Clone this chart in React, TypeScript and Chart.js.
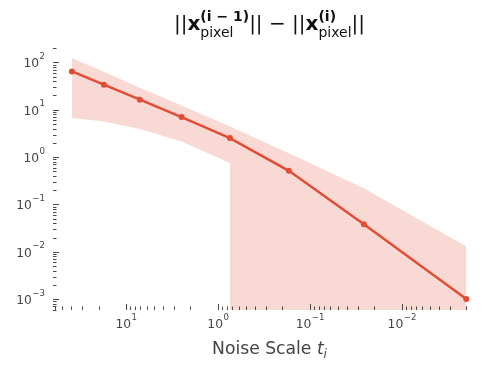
import React, { useEffect, useRef } from 'react';
import { Chart, registerables } from 'chart.js';

Chart.register(...registerables);

// ---- data ----
const noiseScale = [39.0, 17.5, 7.1, 2.5, 0.745, 0.17, 0.026, 0.002];
const meanDiff = [64.5, 33.8, 16.3, 7.0, 2.52, 0.513, 0.0383, 0.00101];
const bandUpper = [124, 63.3, 29.3, 12.3, 4.43, 1.21, 0.221, 0.0129];
const bandLower = [6.67, 5.66, 3.91, 2.14, 0.747, 0, 0, 0];

const xLabelDecades = [1, 0, -1, -2];
const yLabelDecades = [2, 1, 0, -1, -2, -3];
const xRange = [0.00122, 62.6];
const yRange = [5.9e-4, 222];

const xAxisTitle = 'Noise Scale ';
const xAxisTitleVar = 't';
const xAxisTitleSub = 'i';

// ---- styles ----
const LINE = '#E54B33';
const BAND = 'rgba(226,74,51,0.21)';
const TEXT = '#444444';
const TICK = '#4a4a4a';
const FONT = '"DejaVu Sans", "Liberation Sans", sans-serif';
const FLOOR = 1e-12;
const TICK_FONT_SIZE = 12.3;

function makeTicks(min: number, max: number, labelDecades: number[]) {
  const out: any[] = [];
  const lo = Math.floor(Math.log10(min));
  const hi = Math.ceil(Math.log10(max));
  for (let n = lo; n <= hi; n++) {
    for (let k = 1; k <= 9; k++) {
      const v = k * Math.pow(10, n);
      if (v >= min * 0.9999 && v <= max * 1.0001) {
        const decade = k === 1;
        out.push({
          value: v,
          decade,
          exp: decade && labelDecades.includes(n) ? n : null,
          lbl: decade && labelDecades.includes(n) ? '10^' + n : '',
        });
      }
    }
  }
  return out;
}

const tickMarks = {
  id: 'tickMarks',
  afterDatasetsDraw(chart: any) {
    const { ctx, chartArea: a, scales } = chart;
    ctx.save();
    ctx.strokeStyle = TICK;
    ctx.lineWidth = 1;
    ctx.beginPath();
    for (const t of scales.x.ticks) {
      const p = Math.round(scales.x.getPixelForValue(t.value)) + 0.5;
      if (p < a.left - 1 || p > a.right + 1) continue;
      const len = t.decade ? 6 : 3.5;
      ctx.moveTo(p, a.bottom);
      ctx.lineTo(p, a.bottom - len);
    }
    for (const t of scales.y.ticks) {
      const p = Math.round(scales.y.getPixelForValue(t.value)) + 0.5;
      if (p < a.top - 1 || p > a.bottom + 1) continue;
      const len = t.decade ? 6 : 3.5;
      ctx.moveTo(a.left, p);
      ctx.lineTo(a.left + len, p);
    }
    ctx.stroke();

    // tick labels 10^n with real superscripts
    const big = `${TICK_FONT_SIZE}px ${FONT}`;
    const small = `${TICK_FONT_SIZE * 0.7}px ${FONT}`;
    const measure = (exp: number) => {
      ctx.font = big;
      const wb = ctx.measureText('10').width;
      ctx.font = small;
      const ws = ctx.measureText(String(exp).replace('-', '\u2212')).width;
      return { wb, ws };
    };
    const drawLbl = (exp: number, x: number, base: number) => {
      const { wb } = measure(exp);
      ctx.font = big;
      ctx.fillText('10', x, base);
      ctx.font = small;
      ctx.fillText(String(exp).replace('-', '\u2212'), x + wb + 0.5, base - 8.5);
    };
    ctx.fillStyle = TEXT;
    ctx.textBaseline = 'alphabetic';
    ctx.textAlign = 'left';
    for (const t of scales.x.ticks) {
      if (t.exp === null || t.exp === undefined) continue;
      const p = scales.x.getPixelForValue(t.value);
      const { wb, ws } = measure(t.exp);
      drawLbl(t.exp, p - (wb + ws + 0.5) / 2, a.bottom + 18.3);
    }
    for (const t of scales.y.ticks) {
      if (t.exp === null || t.exp === undefined) continue;
      const p = scales.y.getPixelForValue(t.value);
      const { wb, ws } = measure(t.exp);
      drawLbl(t.exp, a.left - 8 - (wb + ws + 0.5), p + 5);
    }
    ctx.restore();
  },
};

type Part = { t: string; font: string; dy?: number } | { stack: { t: string; font: string; dy: number }[] };

const textPlugin = {
  id: 'mathText',
  afterDraw(chart: any) {
    const { ctx, chartArea: a } = chart;
    const cx = (a.left + a.right) / 2;
    ctx.save();
    ctx.textBaseline = 'alphabetic';
    ctx.textAlign = 'left';

    // title: ||x_pixel^(i-1)|| - ||x_pixel^(i)||
    const M = 20;
    const S = M * 0.7;
    const reg = `${M}px ${FONT}`;
    const bold = `bold ${M}px ${FONT}`;
    const sBold = `bold ${S}px ${FONT}`;
    const sReg = `${S}px ${FONT}`;
    const parts: Part[] = [
      { t: '||', font: reg },
      { t: 'x', font: bold },
      { stack: [{ t: '(i \u2212 1)', font: sBold, dy: -8.5 }, { t: 'pixel', font: sReg, dy: 7 }] },
      { t: '||', font: reg },
      { t: ' \u2212 ', font: reg },
      { t: '||', font: reg },
      { t: 'x', font: bold },
      { stack: [{ t: '(i)', font: sBold, dy: -8.5 }, { t: 'pixel', font: sReg, dy: 7 }] },
      { t: '||', font: reg },
    ];
    const widthOf = (p: Part) => {
      if ('stack' in p) {
        return Math.max(...p.stack.map((s) => { ctx.font = s.font; return ctx.measureText(s.t).width; }));
      }
      ctx.font = p.font;
      return ctx.measureText(p.t).width;
    };
    const total = parts.reduce((s, p) => s + widthOf(p), 0);
    let x = cx - total / 2;
    const base = 29.5;
    ctx.fillStyle = '#111111';
    for (const p of parts) {
      const w = widthOf(p);
      if ('stack' in p) {
        for (const s of p.stack) {
          ctx.font = s.font;
          ctx.fillText(s.t, x, base + s.dy);
        }
      } else {
        ctx.font = p.font;
        ctx.fillText(p.t, x, base + (p.dy ?? 0));
      }
      x += w;
    }

    // x axis title
    const L = 17.2;
    const f1 = `${L}px ${FONT}`;
    const f2 = `italic ${L}px ${FONT}`;
    const f3 = `italic ${L * 0.7}px ${FONT}`;
    ctx.font = f1; const w1 = ctx.measureText(xAxisTitle).width;
    ctx.font = f2; const w2 = ctx.measureText(xAxisTitleVar).width;
    ctx.font = f3; const w3 = ctx.measureText(xAxisTitleSub).width;
    let lx = cx - (w1 + w2 + w3) / 2;
    const lb = 354;
    ctx.fillStyle = TEXT;
    ctx.font = f1; ctx.fillText(xAxisTitle, lx, lb); lx += w1;
    ctx.font = f2; ctx.fillText(xAxisTitleVar, lx, lb); lx += w2;
    ctx.font = f3; ctx.fillText(xAxisTitleSub, lx, lb + 3.5);
    ctx.restore();
  },
};

export default function App() {
  const ref = useRef<HTMLCanvasElement | null>(null);

  useEffect(() => {
    const canvas = ref.current;
    if (!canvas) return;

    const upperPts = noiseScale.map((x, i) => ({ x, y: bandUpper[i] }));
    const lowerPts: { x: number; y: number }[] = [];
    bandLower.forEach((v, i) => {
      if (v <= 0 && i > 0 && bandLower[i - 1] > 0) lowerPts.push({ x: noiseScale[i - 1], y: FLOOR });
      lowerPts.push({ x: noiseScale[i], y: v > 0 ? v : FLOOR });
    });
    const linePts = noiseScale.map((x, i) => ({ x, y: meanDiff[i] }));

    const chart = new Chart(canvas, {
      type: 'line',
      data: {
        datasets: [
          {
            data: upperPts,
            borderWidth: 0,
            borderColor: 'rgba(0,0,0,0)',
            backgroundColor: BAND,
            pointRadius: 0,
            fill: '+1',
            tension: 0,
          },
          {
            data: lowerPts,
            borderWidth: 0,
            borderColor: 'rgba(0,0,0,0)',
            backgroundColor: 'rgba(0,0,0,0)',
            pointRadius: 0,
            fill: false,
            tension: 0,
          },
          {
            data: linePts,
            borderColor: LINE,
            backgroundColor: LINE,
            borderWidth: 2.4,
            pointRadius: 3,
            pointHoverRadius: 3,
            pointBorderWidth: 0,
            pointBackgroundColor: LINE,
            fill: false,
            tension: 0,
          },
        ],
      },
      options: {
        animation: false,
        responsive: false,
        events: [],
        layout: { padding: { top: 46, right: 13, left: 0, bottom: 0 } },
        plugins: {
          legend: { display: false },
          tooltip: { enabled: false },
          title: { display: false },
        },
        scales: {
          x: {
            type: 'logarithmic',
            reverse: true,
            min: xRange[0],
            max: xRange[1],
            border: { display: false },
            grid: { display: false, drawTicks: false },
            ticks: { display: false, autoSkip: false },
            afterBuildTicks: (s: any) => { s.ticks = makeTicks(xRange[0], xRange[1], xLabelDecades); },
            afterFit: (s: any) => { s.height = 61; },
          },
          y: {
            type: 'logarithmic',
            min: yRange[0],
            max: yRange[1],
            border: { display: false },
            grid: { display: false, drawTicks: false },
            ticks: { display: false, autoSkip: false },
            afterBuildTicks: (s: any) => { s.ticks = makeTicks(yRange[0], yRange[1], yLabelDecades); },
            afterFit: (s: any) => { s.width = 53; },
          },
        },
      } as any,
      plugins: [tickMarks, textPlugin],
    });

    return () => chart.destroy();
  }, []);

  return (
    <div style={{ position: 'fixed', left: 0, top: 0, width: 499, height: 371, background: '#fff' }}>
      <canvas ref={ref} width={499} height={371} style={{ display: 'block', width: 499, height: 371 }} />
    </div>
  );
}
